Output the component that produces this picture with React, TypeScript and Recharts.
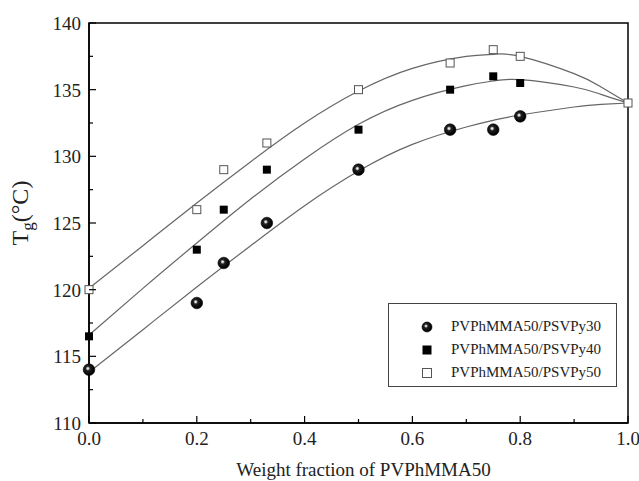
import React from 'react';
import {
  ComposedChart,
  Line,
  Scatter,
  XAxis,
  YAxis,
  ReferenceArea,
  Legend,
} from 'recharts';

// measured points (weight fraction of PVPhMMA50 vs Tg)
const fractions = [0, 0.2, 0.25, 0.33, 0.5, 0.67, 0.75, 0.8];
const tgPy30 = [114, 119, 122, 125, 129, 132, 132, 133];
const tgPy40 = [116.5, 123, 126, 129, 132, 135, 136, 135.5];
const fractionsPy50 = [0, 0.2, 0.25, 0.33, 0.5, 0.67, 0.75, 0.8, 1.0];
const tgPy50 = [120, 126, 129, 131, 135, 137, 138, 137.5, 134];

// fitted curves
const fitFractions = [0, 0.1, 0.2, 0.3, 0.4, 0.5, 0.6, 0.7, 0.75, 0.8, 0.9, 0.95, 1.0];
const fitPy30 = [113.8, 117.0, 120.2, 123.3, 126.3, 128.9, 130.9, 132.2, 132.7, 133.1, 133.7, 133.9, 134.0];
const fitPy40 = [116.6, 120.1, 123.5, 126.8, 129.8, 132.4, 134.2, 135.3, 135.65, 135.75, 135.2, 134.65, 134.0];
const fitPy50 = [120.1, 123.3, 126.5, 129.6, 132.5, 134.9, 136.6, 137.5, 137.65, 137.5, 136.2, 135.2, 134.0];

const xTicks = [0, 0.1, 0.2, 0.3, 0.4, 0.5, 0.6, 0.7, 0.8, 0.9, 1.0];
const yTicks = [110, 112.5, 115, 117.5, 120, 122.5, 125, 127.5, 130, 132.5, 135, 137.5, 140];

const seriesNames = ['PVPhMMA50/PSVPy30', 'PVPhMMA50/PSVPy40', 'PVPhMMA50/PSVPy50'];

const toPoints = (xs: number[], ys: number[]) => xs.map((x, i) => ({ x, y: ys[i] }));

const FONT = '"Liberation Serif", "Times New Roman", serif';

const BallGradient = ({ id }: { id: string }) => (
  <radialGradient id={id} cx="40%" cy="40%" r="55%">
    <stop offset="0%" stopColor="#ffffff" />
    <stop offset="14%" stopColor="#d0d0d0" />
    <stop offset="35%" stopColor="#222" />
    <stop offset="100%" stopColor="#000" />
  </radialGradient>
);

const Sphere = ({ cx, cy }: any) => (
  <g>
    <defs>
      <BallGradient id="ballGrad" />
    </defs>
    <circle cx={cx} cy={cy} r={5.8} fill="url(#ballGrad)" stroke="#000" strokeWidth={0.6} />
  </g>
);

const FilledSquare = ({ cx, cy }: any) => (
  <rect x={cx - 4} y={cy - 4} width={8} height={8} fill="#000" />
);

const OpenSquare = ({ cx, cy }: any) => (
  <rect x={cx - 4} y={cy - 4} width={8} height={8} fill="#fff" stroke="#555" strokeWidth={1} />
);

const XTick = (props: any) => {
  const { x, y, payload } = props;
  const v = payload.value;
  const major = Math.round(v * 10) % 2 === 0;
  return (
    <g>
      <line x1={x} y1={y} x2={x} y2={y - (major ? 7 : 4)} stroke="#000" strokeWidth={1.2} />
      {major && (
        <text x={x} y={y + 22} textAnchor="middle" fontFamily={FONT} fontSize={19} fill="#222">
          {v.toFixed(1)}
        </text>
      )}
    </g>
  );
};

const YTick = (props: any) => {
  const { x, y, payload } = props;
  const v = payload.value;
  const major = v % 5 === 0;
  return (
    <g>
      <line x1={x} y1={y} x2={x + (major ? 7 : 4)} y2={y} stroke="#000" strokeWidth={1.2} />
      {major && (
        <text x={x - 8} y={y + 7} textAnchor="end" fontFamily={FONT} fontSize={19} fill="#222">
          {v}
        </text>
      )}
    </g>
  );
};

const LegendBox = () => {
  const symbols = [
    <circle key="a" cx={8} cy={8} r={5} fill="url(#ballGradLegend)" stroke="#000" strokeWidth={0.6} />,
    <rect key="b" x={3.5} y={3.5} width={9} height={9} fill="#000" />,
    <rect key="c" x={3.5} y={3.5} width={9} height={9} fill="#fff" stroke="#555" />,
  ];
  return (
    <div
      style={{
        width: 229,
        height: 84,
        border: '1px solid #444',
        boxSizing: 'border-box',
        background: '#fff',
        fontFamily: FONT,
        fontSize: 15,
        color: '#222',
        paddingTop: 11,
      }}
    >
      <svg width={0} height={0} style={{ position: 'absolute' }}>
        <defs>
          <BallGradient id="ballGradLegend" />
        </defs>
      </svg>
      {seriesNames.map((name, i) => (
        <div key={name} style={{ display: 'flex', alignItems: 'center', height: 23, whiteSpace: 'nowrap' }}>
          <svg width={16} height={16} style={{ marginLeft: 30, marginRight: 16 }}>
            {symbols[i]}
          </svg>
          <span>{name}</span>
        </div>
      ))}
    </div>
  );
};

const App = () => {
  return (
    <div style={{ position: 'absolute', left: 0, top: 0, width: 639, height: 481, background: '#fff' }}>
      <ComposedChart width={639} height={481} margin={{ top: 23, right: 11, left: 0, bottom: 0 }}>
        <XAxis
          type="number"
          dataKey="x"
          domain={[0, 1]}
          ticks={xTicks}
          interval={0}
          tickSize={0}
          tickMargin={0}
          tickLine={false}
          tick={XTick}
          axisLine={{ stroke: '#000', strokeWidth: 1.5 }}
          height={58}
          label={{
            content: (p: any) => {
              const vb = p.viewBox;
              return (
                <text x={vb.x + vb.width / 2 + 5} y={476} textAnchor="middle" fontFamily={FONT} fontSize={19} fill="#222">
                  Weight fraction of PVPhMMA50
                </text>
              );
            },
          }}
        />
        <YAxis
          type="number"
          dataKey="y"
          domain={[110, 140]}
          ticks={yTicks}
          interval={0}
          tickSize={0}
          tickMargin={0}
          tickLine={false}
          tick={YTick}
          axisLine={{ stroke: '#000', strokeWidth: 1.5 }}
          width={89}
          label={{
            content: () => (
              <text transform="rotate(-90, 28, 213)" x={28} y={213} textAnchor="middle" fontFamily={FONT} fontSize={24} fill="#222">
                T
                <tspan fontSize={17} dy={5}>g</tspan>
                <tspan dy={-5}>(°C)</tspan>
              </text>
            ),
          }}
        />
        <ReferenceArea x1={0} x2={1} y1={110} y2={140} fill="none" stroke="#000" strokeWidth={1.5} />
        <Line data={toPoints(fitFractions, fitPy30)} dataKey="y" type="natural" stroke="#666" strokeWidth={1.2} dot={false} isAnimationActive={false} legendType="none" />
        <Line data={toPoints(fitFractions, fitPy40)} dataKey="y" type="natural" stroke="#666" strokeWidth={1.2} dot={false} isAnimationActive={false} legendType="none" />
        <Line data={toPoints(fitFractions, fitPy50)} dataKey="y" type="natural" stroke="#666" strokeWidth={1.2} dot={false} isAnimationActive={false} legendType="none" />
        <Scatter name={seriesNames[0]} data={toPoints(fractions, tgPy30)} dataKey="y" shape={Sphere} isAnimationActive={false} />
        <Scatter name={seriesNames[1]} data={toPoints(fractions, tgPy40)} dataKey="y" shape={FilledSquare} isAnimationActive={false} />
        <Scatter name={seriesNames[2]} data={toPoints(fractionsPy50, tgPy50)} dataKey="y" shape={OpenSquare} isAnimationActive={false} />
        <Legend
          layout="horizontal"
          verticalAlign="middle"
          align="center"
          content={LegendBox}
          wrapperStyle={{ left: 388, top: 303, width: 229, height: 84 }}
        />
      </ComposedChart>
    </div>
  );
};

export default App;
